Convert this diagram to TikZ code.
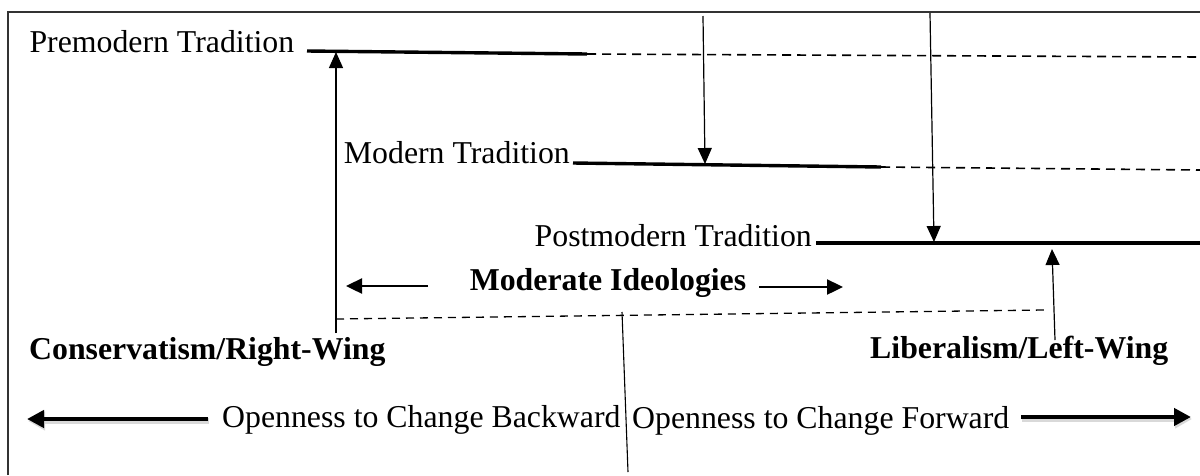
\documentclass[tikz,border=0pt]{standalone}
\usepackage{fontspec}
\setmainfont{Liberation Serif}
\usetikzlibrary{arrows.meta}
\begin{document}
\begin{tikzpicture}[x=1pt,y=-1pt,
  lbl/.style={inner sep=0pt, font=\fontsize{31.8}{38}\selectfont},
  blbl/.style={inner sep=0pt, font=\fontsize{31.8}{38}\selectfont\bfseries},
  thickline/.style={line width=3.4pt},
  dashline/.style={line width=1.6pt, dash pattern=on 9pt off 6pt},
  thinarrow/.style={line width=1.2pt, -{Triangle[length=16pt,width=14pt]}},
  midarrow/.style={line width=2.4pt, -{Triangle[length=16pt,width=15pt]}},
  bigarrow/.style={line width=4.5pt, -{Triangle[length=17pt,width=17pt]}},
  bigshadow/.style={line width=5.5pt, black!15, -{Triangle[length=17pt,width=18pt]}},
  frame/.style={line width=1.8pt, black!80}
]
\useasboundingbox (0,0) rectangle (1200,475);
% frame
\coordinate (fTL) at (8,12);
\coordinate (fTR) at (1200,12);
\coordinate (fBL) at (8,475);
\draw[frame] (fBL) -- (fTL) -- (fTR);

% Premodern
\node[lbl, anchor=base west] (pre) at (29.3,52) {Premodern Tradition};
\coordinate (preA) at (307,51);
\coordinate (preB) at (587,54);
\coordinate (preC) at (1200,57);
\draw[thickline] (preA) -- (preB);
\draw[dashline] (preB) -- (preC);

% Modern
\node[lbl, anchor=base east] (mod) at (570,163) {Modern Tradition};
\coordinate (modA) at (573,163);
\coordinate (modB) at (881,167);
\coordinate (modC) at (1200,170);
\draw[thickline] (modA) -- (modB);
\draw[dashline] (modB) -- (modC);

% Postmodern
\node[lbl, anchor=base east] (post) at (812,246) {Postmodern Tradition};
\coordinate (postA) at (816,243);
\coordinate (postC) at (1200,243);
\draw[thickline] (postA) -- (postC);

% down arrows
\coordinate (t1) at (703,16);
\coordinate (h1) at (705,164);
\draw[thinarrow] (t1) -- (h1);
\coordinate (t2) at (930,13);
\coordinate (h2) at (934,242);
\draw[thinarrow] (t2) -- (h2);

% up arrows
\coordinate (lvB) at (336,333);
\coordinate (lvT) at (336,52);
\draw[thinarrow] (lvB) -- (lvT);
\coordinate (libB) at (1055,340);
\coordinate (libT) at (1052,249);
\draw[thinarrow] (libB) -- (libT);

% Moderate ideologies
\node[blbl, anchor=base] (modI) at (608,290) {Moderate Ideologies};
\coordinate (mlA) at (428,286);
\coordinate (mlB) at (346,286);
\draw[midarrow] (mlA) -- (mlB);
\coordinate (mrA) at (759,287);
\coordinate (mrB) at (843,287);
\draw[midarrow] (mrA) -- (mrB);

% dashed baseline of moderates
\coordinate (dA) at (336,319);
\coordinate (dB) at (1044,310);
\draw[line width=1.3pt, dash pattern=on 8pt off 6pt] (dA) -- (dB);

% center line
\coordinate (cA) at (622,312);
\coordinate (cB) at (628,472);
\draw[line width=1.1pt] (cA) -- (cB);

% wings
\node[blbl, anchor=base west] (cons) at (29,359) {Conservatism/Right-Wing};
\node[blbl, anchor=base west] (lib) at (870,358) {Liberalism/Left-Wing};

% openness
\node[lbl, anchor=base west] (back) at (222,427) {Openness to Change Backward};
\node[lbl, anchor=base west] (fwd) at (632,428) {Openness to Change Forward};
\coordinate (baA) at (208,419);
\coordinate (baB) at (27,419);
\draw[bigshadow, transform canvas={shift={(1pt,-2pt)}}] (baA) -- (baB);
\draw[bigarrow] (baA) -- (baB);
\coordinate (faA) at (1021,417);
\coordinate (faB) at (1191,417);
\draw[bigshadow, transform canvas={shift={(1pt,-2pt)}}] (faA) -- (faB);
\draw[bigarrow] (faA) -- (faB);
\end{tikzpicture}
\end{document}
